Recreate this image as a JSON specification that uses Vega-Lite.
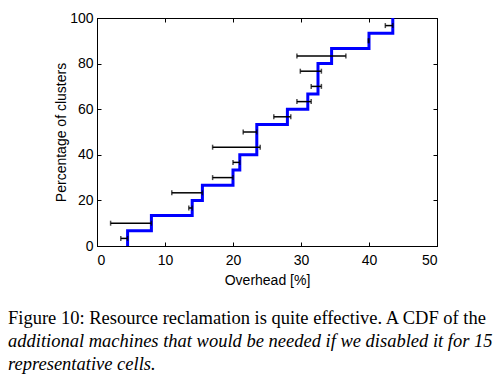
{
  "$schema": "https://vega.github.io/schema/vega-lite/v6.json",
  "width": 340,
  "height": 228,
  "autosize": {"type": "none"},
  "padding": {"left": 97, "top": 18, "right": 67, "bottom": 130},
  "background": "white",
  "config": {
    "font": "Liberation Sans",
    "view": {"stroke": "black", "strokeWidth": 1},
    "axis": {
      "grid": false,
      "domainColor": "black",
      "tickColor": "black",
      "tickSize": -4,
      "labelColor": "black",
      "titleColor": "black",
      "labelFont": "Liberation Sans",
      "titleFont": "Liberation Sans",
      "labelFontSize": 14,
      "titleFontSize": 14,
      "titleFontWeight": "normal"
    }
  },
  "title": {
    "text": "Figure 10: Resource reclamation is quite effective. A CDF of the",
    "subtitle": ["additional machines that would be needed if we disabled it for 15", "representative cells."],
    "orient": "bottom",
    "anchor": "start",
    "frame": "group",
    "dx": -89,
    "offset": 22,
    "font": "Liberation Serif",
    "fontSize": 18.5,
    "fontWeight": "normal",
    "color": "black",
    "subtitleFont": "Liberation Serif",
    "subtitleFontSize": 18.5,
    "subtitleFontStyle": "italic",
    "subtitleColor": "black",
    "subtitlePadding": 4,
    "subtitleLineHeight": 23
  },
  "datasets": {
    "cdf": [
      {"overhead": 4.5, "pct": 0},
      {"overhead": 4.5, "pct": 6.67},
      {"overhead": 8, "pct": 13.33},
      {"overhead": 14, "pct": 20},
      {"overhead": 15.5, "pct": 26.67},
      {"overhead": 20, "pct": 33.33},
      {"overhead": 21, "pct": 40},
      {"overhead": 23.5, "pct": 46.67},
      {"overhead": 23.5, "pct": 53.33},
      {"overhead": 28, "pct": 60},
      {"overhead": 31, "pct": 66.67},
      {"overhead": 32.5, "pct": 73.33},
      {"overhead": 32.5, "pct": 80},
      {"overhead": 34.5, "pct": 86.67},
      {"overhead": 40, "pct": 93.33},
      {"overhead": 43.5, "pct": 100}
    ],
    "err": [
      {"pct": 3.33, "lo": 3.5, "hi": 4.5},
      {"pct": 10, "lo": 2, "hi": 8},
      {"pct": 16.67, "lo": 13.5, "hi": 14},
      {"pct": 23.33, "lo": 11, "hi": 15.5},
      {"pct": 30, "lo": 17, "hi": 20},
      {"pct": 36.67, "lo": 20, "hi": 21},
      {"pct": 43.33, "lo": 17, "hi": 24},
      {"pct": 50, "lo": 21.5, "hi": 23.5},
      {"pct": 56.67, "lo": 26, "hi": 28.5},
      {"pct": 63.33, "lo": 29.4, "hi": 31.5},
      {"pct": 70, "lo": 31.5, "hi": 33},
      {"pct": 76.67, "lo": 29.9, "hi": 33},
      {"pct": 83.33, "lo": 29.4, "hi": 36.6},
      {"pct": 90, "lo": 39.9, "hi": 40},
      {"pct": 96.67, "lo": 42.4, "hi": 43.5}
    ]
  },
  "layer": [
    {
      "data": {"name": "cdf"},
      "mark": {"type": "line", "interpolate": "step-after", "color": "#0000ff", "strokeWidth": 3, "clip": true},
      "encoding": {
        "x": {"field": "overhead", "type": "quantitative", "scale": {"domain": [0, 50], "nice": false},
              "axis": {"orient": "bottom", "title": "Overhead [%]", "values": [0, 10, 20, 30, 40, 50], "labelPadding": 11, "titlePadding": 6}},
        "y": {"field": "pct", "type": "quantitative", "scale": {"domain": [0, 100], "nice": false},
              "axis": {"orient": "left", "title": "Percentage of clusters", "values": [0, 20, 40, 60, 80, 100], "labelPadding": 8, "titlePadding": 1}}
      }
    },
    {
      "data": {"name": "err"},
      "mark": {"type": "errorbar", "ticks": {"size": 5, "thickness": 1.5, "color": "black"}, "rule": {"strokeWidth": 1.5, "color": "black"}},
      "encoding": {
        "x": {"field": "lo", "type": "quantitative", "axis": {"orient": "top", "labels": false, "title": null, "values": [0, 10, 20, 30, 40, 50]}},
        "x2": {"field": "hi"},
        "y": {"field": "pct", "type": "quantitative", "axis": {"orient": "right", "labels": false, "title": null, "values": [0, 20, 40, 60, 80, 100]}}
      }
    }
  ],
  "resolve": {"axis": {"x": "independent", "y": "independent"}}
}
